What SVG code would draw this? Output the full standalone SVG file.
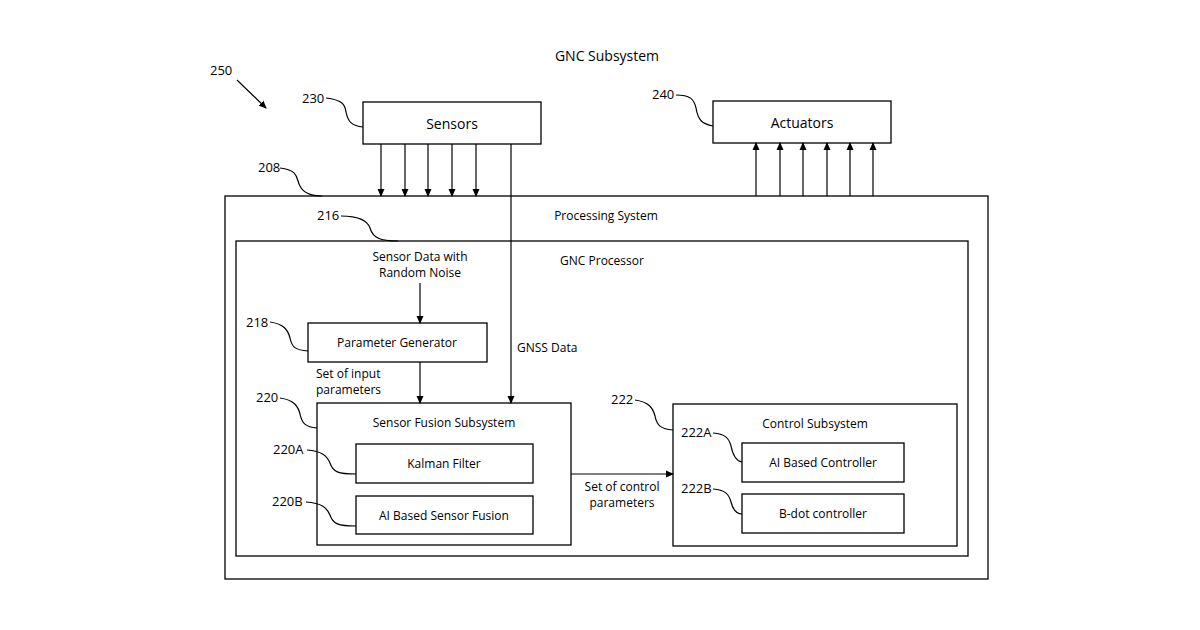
<svg xmlns="http://www.w3.org/2000/svg" width="1200" height="630" viewBox="0 0 1200 630">
<defs>
<marker id="ah" markerWidth="8" markerHeight="8" refX="7" refY="4" orient="auto" markerUnits="userSpaceOnUse"><path d="M0,0.5 L8,4 L0,7.5 z" fill="#000"/></marker>
<style>
rect{fill:#fff;stroke:#000;stroke-width:1.3}
text{font-family:"Open Sans","Liberation Sans",sans-serif;font-size:12px;fill:#000}
.m{text-anchor:middle}
.l{fill:none;stroke:#000;stroke-width:1.2}
.c{fill:none;stroke:#000;stroke-width:1.2;marker-end:url(#ah)}
</style>
</defs>
<rect width="1200" height="630" style="stroke:none"/>
<text x="607" y="61" class="m" style="font-size:14px">GNC Subsystem</text>
<g id="ref250"><text x="210" y="75" style="font-size:13px">250</text><path class="c" d="M237,80 L266,108"/></g>
<g id="processing"><rect x="225" y="196" width="763" height="383"/><text x="606" y="220" class="m">Processing System</text>
<text x="258" y="172" style="font-size:13px">208</text><path class="l" d="M280,168 C300,170 296,180 300,186 C304,194 312,196 322,196"/></g>
<g id="gnc"><rect x="236" y="241" width="732" height="315"/><text x="602" y="265" class="m">GNC Processor</text>
<text x="317" y="220" style="font-size:13px">216</text><path class="l" d="M341,216 C360,216 368,222 370,228 C373,238 380,241 398,241"/></g>
<g id="sensors"><rect x="363" y="102" width="178" height="42"/><text x="452" y="129" class="m" style="font-size:14px">Sensors</text>
<text x="302" y="103" style="font-size:13px">230</text><path class="l" d="M326,98 C342,100 345,104 346,112 C348,122 352,126 363,127"/></g>
<g id="actuators"><rect x="713" y="101" width="178" height="42"/><text x="802" y="128" class="m" style="font-size:14px">Actuators</text>
<text x="652" y="99" style="font-size:13px">240</text><path class="l" d="M676,95 C690,95 694,99 696,108 C698,120 702,124 713,126"/></g>
<g id="paramgen"><rect x="308" y="323" width="179" height="39"/><text x="397" y="347" class="m">Parameter Generator</text>
<text x="246" y="327" style="font-size:13px">218</text><path class="l" d="M270,322 C284,324 288,330 290,338 C292,348 296,350 308,351"/></g>
<g id="fusion"><rect x="317" y="403" width="254" height="142"/><text x="444" y="427" class="m">Sensor Fusion Subsystem</text>
<text x="256" y="402" style="font-size:13px">220</text><path class="l" d="M280,398 C294,400 298,406 300,414 C302,424 306,427 317,428"/></g>
<g id="kalman"><rect x="356" y="444" width="177" height="39"/><text x="444" y="468" class="m">Kalman Filter</text>
<text x="273" y="454" style="font-size:13px">220A</text><path class="l" d="M307,450 C322,451 327,456 330,463 C333,472 338,474 356,474"/></g>
<g id="aifusion"><rect x="356" y="496" width="177" height="38"/><text x="444" y="520" class="m">AI Based Sensor Fusion</text>
<text x="272" y="506" style="font-size:13px">220B</text><path class="l" d="M306,502 C322,503 327,508 330,515 C333,524 338,526 356,526"/></g>
<g id="control"><rect x="673" y="404" width="284" height="142"/><text x="815" y="428" class="m">Control Subsystem</text>
<text x="611" y="404" style="font-size:13px">222</text><path class="l" d="M635,400 C649,402 653,408 655,416 C657,426 661,429 673,430"/></g>
<g id="aictrl"><rect x="742" y="443" width="162" height="39"/><text x="823" y="467" class="m">AI Based Controller</text>
<text x="681" y="437" style="font-size:13px">222A</text><path class="l" d="M713,433 C725,434 729,438 731,446 C733,456 736,461 742,462"/></g>
<g id="bdot"><rect x="742" y="494" width="162" height="39"/><text x="823" y="518" class="m">B-dot controller</text>
<text x="681" y="493" style="font-size:13px">222B</text><path class="l" d="M713,489 C725,490 729,494 731,502 C733,510 736,514 742,514"/></g>
<g id="connectors">
<path class="c" d="M381,144 V196"/><path class="c" d="M405,144 V196"/><path class="c" d="M428,144 V196"/><path class="c" d="M452,144 V196"/><path class="c" d="M476,144 V196"/>
<path class="c" d="M511,144 V403"/>
<path class="c" d="M756,196 V143"/><path class="c" d="M780,196 V143"/><path class="c" d="M803,196 V143"/><path class="c" d="M827,196 V143"/><path class="c" d="M850,196 V143"/><path class="c" d="M873,196 V143"/>
<path class="c" d="M420,283 V323"/><path class="c" d="M420,362 V403"/>
<path class="c" d="M571,474 H673"/>
</g>
<text x="420" y="261" class="m">Sensor Data with</text><text x="420" y="277" class="m">Random Noise</text>
<text x="517" y="352">GNSS Data</text>
<text x="316" y="378">Set of input</text><text x="316" y="394">parameters</text>
<text x="622" y="491" class="m">Set of control</text><text x="622" y="507" class="m">parameters</text>
</svg>
